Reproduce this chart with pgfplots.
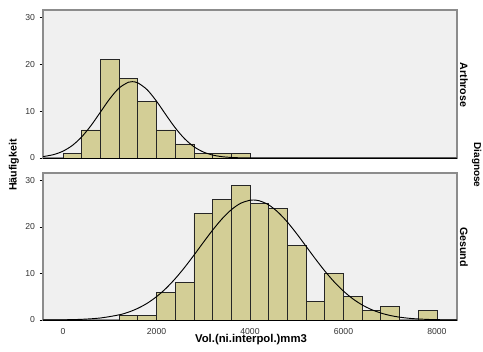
\documentclass[border=0pt]{standalone}
\usepackage{fontspec}
\setmainfont{Liberation Sans}
\usepackage{pgfplots}
\pgfplotsset{compat=1.18}
\definecolor{barfill}{RGB}{211,206,150}
\definecolor{panelbg}{RGB}{240,240,240}
\definecolor{frame}{RGB}{140,140,140}
\pgfplotsset{panel/.style={
  scale only axis, width=310.5pt,
  xmin=-430, xmax=8430, ymin=0, ymax=31.6,
  axis background/.style={fill=panelbg},
  axis line style={frame, line width=0.9pt},
  ytick={0,10,20,30}, ytick pos=left, tick align=outside,
  major tick length=2.5pt,
  y tick style={black, line width=0.5pt},
  tick label style={font=\fontsize{6.5}{7}\selectfont, text=black!80},
  /pgf/number format/assume math mode=true,
  /pgf/number format/1000 sep={},
}}
\begin{document}
\begin{tikzpicture}
\useasboundingbox (0pt,0pt) rectangle (362.25pt,-263.25pt);
% top panel: Arthrose
\begin{axis}[panel, at={(32.25pt,-7.5pt)}, anchor=north west, height=111pt,
  xtick=\empty]
\addplot[ybar interval, fill=barfill, draw=black!85, line width=0.55pt] coordinates {
 (0,1) (400,6) (800,21) (1200,17) (1600,12) (2000,6) (2400,3) (2800,1) (3200,1) (3600,1) (4000,0)};
\addplot[black, line width=0.7pt, smooth, no marks] coordinates {
 (-430,0.297) (-200,0.736) (0,1.472) (200,2.699) (400,4.531) (600,6.967) (800,9.813)
 (1000,12.66) (1200,14.96) (1400,16.19) (1480,16.3) (1600,16.04) (1800,14.57) (2000,12.12)
 (2200,9.23) (2400,6.44) (2600,4.12) (2800,2.41) (3000,1.29) (3200,0.634) (3400,0.285)
 (3600,0.117) (3800,0.044) (4000,0.015) (4400,0.001) (8430,0)};
\draw[black, line width=0.6pt] (rel axis cs:0,0) -- (rel axis cs:1,0);
\end{axis}
% bottom panel: Gesund
\begin{axis}[panel, at={(32.25pt,-129.75pt)}, anchor=north west, height=110.25pt,
  xtick={0,2000,4000,6000,8000}, xtick pos=bottom, x tick style={draw=none}]
\addplot[ybar interval, fill=barfill, draw=black!85, line width=0.55pt] coordinates {
 (1200,1) (1600,1) (2000,6) (2400,8) (2800,23) (3200,26) (3600,29) (4000,25) (4400,24)
 (4800,16) (5200,4) (5600,10) (6000,5) (6400,2) (6800,3) (7200,0) (7600,2) (8000,0)};
\addplot[black, line width=0.7pt, smooth, no marks] coordinates {
 (-430,0.011) (0,0.046) (400,0.150) (800,0.434) (1200,1.109) (1400,1.69) (1600,2.51)
 (1800,3.60) (2000,5.02) (2200,6.78) (2400,8.89) (2600,11.30) (2800,13.93) (3000,16.66)
 (3200,19.32) (3400,21.73) (3600,23.71) (3800,25.09) (4000,25.75) (4070,25.8) (4200,25.63)
 (4400,24.75) (4600,23.17) (4800,21.05) (5000,18.54) (5200,15.84) (5400,13.13) (5600,10.55)
 (5800,8.22) (6000,6.22) (6200,4.56) (6400,3.24) (6600,2.24) (6800,1.50) (7000,0.971)
 (7200,0.611) (7400,0.373) (7600,0.221) (7800,0.127) (8000,0.071) (8430,0.018)};
\draw[black, line width=0.6pt] (rel axis cs:0,0) -- (rel axis cs:1,0);
\end{axis}
\node[font=\bfseries\fontsize{8.5}{10}\selectfont] at (188.25pt,-255pt) {Vol.(ni.interpol.)mm3};
\node[font=\bfseries\fontsize{8}{10}\selectfont, rotate=90] at (10.5pt,-123.75pt) {Häufigkeit};
\node[font=\bfseries\fontsize{8}{10}\selectfont, rotate=-90] at (348pt,-63.75pt) {Arthrose};
\node[font=\bfseries\fontsize{8}{10}\selectfont, rotate=-90] at (348pt,-185.25pt) {Gesund};
\node[font=\bfseries\fontsize{7.5}{9}\selectfont, rotate=-90, inner sep=0pt] at (357.5pt,-123.75pt) {Diagnose};
\end{tikzpicture}
\end{document}
